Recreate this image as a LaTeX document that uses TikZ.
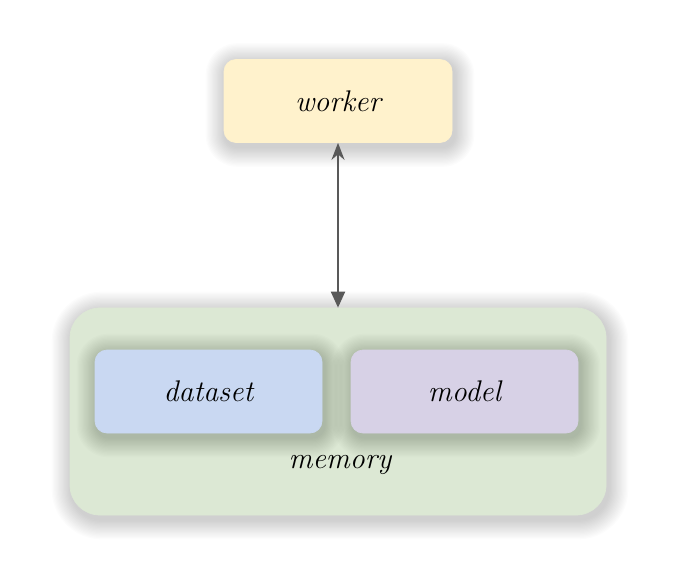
\documentclass[tikz,border=0pt]{standalone}
\usepackage{tikz}
\usetikzlibrary{arrows.meta,positioning,calc}

\pgfdeclarelayer{shadowlo}
\pgfdeclarelayer{groupbg}
\pgfdeclarelayer{shadowhi}
\pgfsetlayers{shadowlo,groupbg,shadowhi,main}

% soft shadow behind a node: node name, corner radius
\newcommand{\softshade}[2]{%
  \foreach \i in {1,...,16} {
    \fill[black, opacity=0.012, rounded corners=#2+\i*0.025cm]
      ($(#1.south west)+(-\i*0.025cm+0.04cm,-\i*0.025cm-0.08cm)$) rectangle
      ($(#1.north east)+(\i*0.025cm+0.04cm,\i*0.025cm-0.08cm)$);
  }}

\begin{document}
\begin{tikzpicture}[
    box/.style={draw=#1, fill=#1, rounded corners=0.24cm, font=\fontsize{17}{20}\selectfont\itshape,
      minimum height=1.66cm, minimum width=4.54cm, align=center},
    group/.style={draw=#1, fill=#1, rounded corners=0.6cm,
      minimum height=4.14cm, minimum width=10.72cm},
    arr/.style={{Stealth[length=3.4mm, width=2.6mm]}-{Triangle[length=3.2mm, width=2.8mm]},
      line width=1.1pt, draw=black!65},
  ]
    \useasboundingbox (0,0) rectangle (13.52,-11.32);
    \definecolor{workerfill}{HTML}{FFF2CC}
    \definecolor{memfill}{HTML}{DCE8D4}
    \definecolor{datafill}{HTML}{C9D8F2}
    \definecolor{modelfill}{HTML}{D7D1E6}

    % Worker
    \node[box=workerfill, minimum width=4.56cm] (worker) at (6.76, -2.02) {worker};

    % Memory
    \begin{pgfonlayer}{groupbg}
      \node[group=memfill] (memory) at (6.76, -8.23) {};
    \end{pgfonlayer}
    \node[box=datafill] (dataset) at (4.17, -7.83) {dataset};
    \node[box=modelfill] (model) at (9.29, -7.83) {model};
    \node[font=\fontsize{17}{20}\selectfont\itshape] (memlabel) at (6.8, -9.30) {memory};

    % Shadows
    \begin{pgfonlayer}{shadowlo}
      \softshade{worker}{0.24cm}
      \softshade{memory}{0.6cm}
    \end{pgfonlayer}
    \begin{pgfonlayer}{shadowhi}
      \softshade{dataset}{0.24cm}
      \softshade{model}{0.24cm}
    \end{pgfonlayer}

    % Arrow
    \draw[arr] (worker) -- (memory);
  \end{tikzpicture}
\end{document}
